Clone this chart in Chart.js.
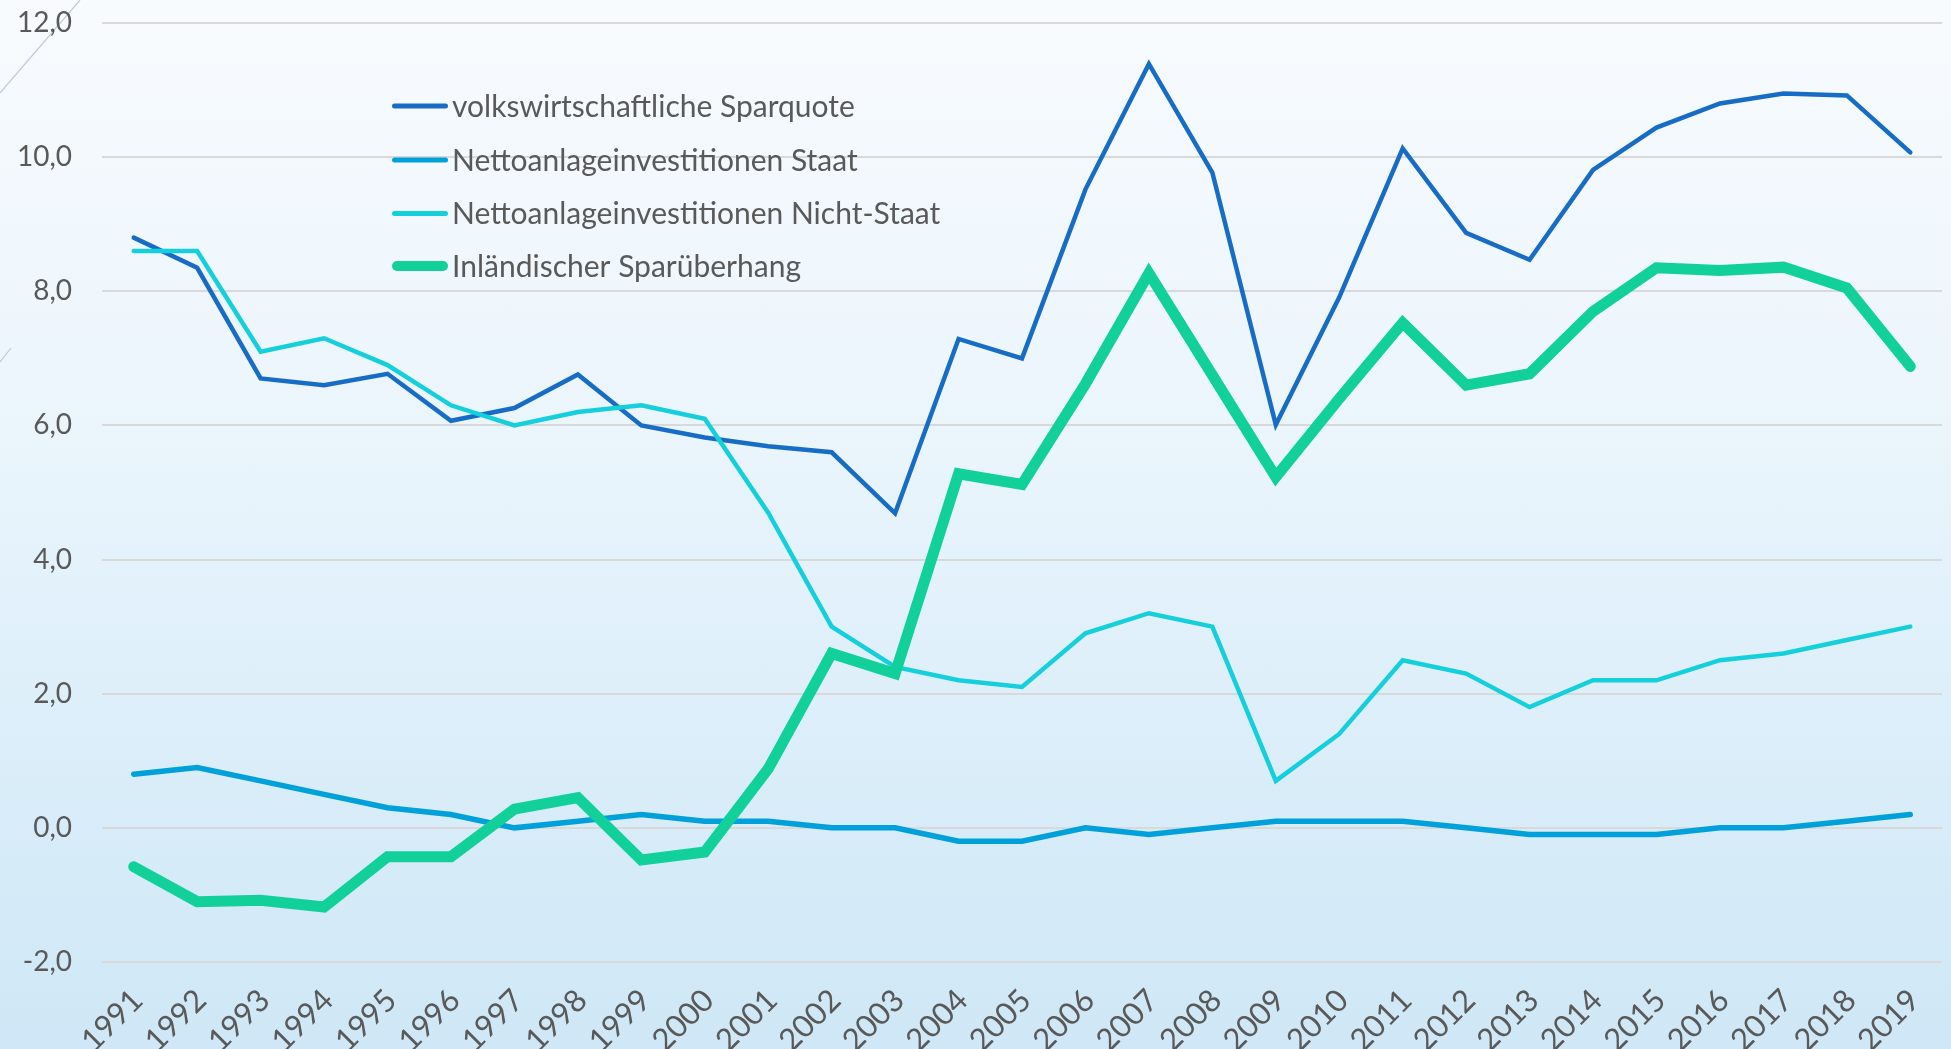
<!DOCTYPE html>
<html><head><meta charset="utf-8">
<script src="https://cdn.jsdelivr.net/npm/chart.js@4.4.0/dist/chart.umd.min.js"></script>
<style>
html,body{margin:0;padding:0;}
body{width:1951px;height:1049px;overflow:hidden;background:linear-gradient(to bottom,#f8fbfe 0%,#ebf5fc 40%,#d9edf9 75%,#cfe7f6 100%);}
#wrap{position:relative;width:1951px;height:1049px;}
canvas{display:block;}
</style></head><body>
<div id="wrap"><canvas id="c" width="1951" height="1049"></canvas></div>
<script>
// ---- data ----
const years = ['1991','1992','1993','1994','1995','1996','1997','1998','1999','2000','2001','2002','2003','2004','2005','2006','2007','2008','2009','2010','2011','2012','2013','2014','2015','2016','2017','2018','2019'];
const seriesNames = ['volkswirtschaftliche Sparquote','Nettoanlageinvestitionen Staat','Nettoanlageinvestitionen Nicht-Staat','Inländischer Sparüberhang'];
const sparquote = [8.8, 8.35, 6.7, 6.6, 6.77, 6.07, 6.26, 6.76, 6.0, 5.82, 5.69, 5.6, 4.69, 7.29, 7.0, 9.52, 11.39, 9.77, 6.01, 7.91, 10.13, 8.87, 8.47, 9.81, 10.44, 10.8, 10.95, 10.92, 10.07];
const staat = [0.8, 0.9, 0.7, 0.5, 0.3, 0.2, 0.0, 0.1, 0.2, 0.1, 0.1, 0.0, 0.0, -0.2, -0.2, 0.0, -0.1, 0.0, 0.1, 0.1, 0.1, 0.0, -0.1, -0.1, -0.1, 0.0, 0.0, 0.1, 0.2];
const nichtStaat = [8.6, 8.6, 7.1, 7.3, 6.9, 6.3, 6.0, 6.2, 6.3, 6.1, 4.7, 3.0, 2.4, 2.2, 2.1, 2.9, 3.2, 3.0, 0.7, 1.4, 2.5, 2.3, 1.8, 2.2, 2.2, 2.5, 2.6, 2.8, 3.0];
const ueberhang = [-0.58, -1.1, -1.08, -1.18, -0.43, -0.43, 0.28, 0.45, -0.48, -0.36, 0.88, 2.6, 2.3, 5.28, 5.12, 6.62, 8.27, 6.75, 5.23, 6.4, 7.53, 6.6, 6.77, 7.7, 8.35, 8.31, 8.36, 8.05, 6.88];
const yTickValues = [-2, 0, 2, 4, 6, 8, 10, 12];
const yTickLabels = ['-2,0', '0,0', '2,0', '4,0', '6,0', '8,0', '10,0', '12,0'];

// ---- styles ----
const colors = ['#176dc6', '#00a0db', '#15cfdd', '#12d09a'];
const widths = [4.5, 5.5, 4.5, 11];
const legendWidths = [5, 5, 5, 10];
const textColor = '#595959';
const FONT = 'Lato, "Open Sans", sans-serif';

const legendPlugin = {
  id: 'customLegend',
  afterDraw(chart) {
    const ctx = chart.ctx;
    const x0 = 392, x1 = 448, tx = 452;
    const rows = [106, 160, 213.5, 266];
    ctx.save();
    ctx.font = '30px ' + FONT;
    ctx.textAlign = 'left';
    ctx.textBaseline = 'alphabetic';
    chart.data.datasets.forEach((ds, i) => {
      const y = rows[i];
      ctx.strokeStyle = ds.borderColor;
      ctx.lineWidth = legendWidths[i];
      ctx.lineCap = 'round';
      ctx.beginPath();
      ctx.moveTo(x0 + legendWidths[i] / 2, y);
      ctx.lineTo(x1 - legendWidths[i] / 2, y);
      ctx.stroke();
      ctx.fillStyle = textColor;
      ctx.fillText(ds.label, tx, y + 10.5);
    });
    ctx.restore();
  }
};

const decoPlugin = {
  id: 'deco',
  beforeDraw(chart) {
    const ctx = chart.ctx;
    ctx.save();
    ctx.strokeStyle = 'rgba(150,165,190,0.55)';
    ctx.lineWidth = 1.2;
    ctx.beginPath();
    ctx.moveTo(0, 93); ctx.lineTo(80, 0);
    ctx.moveTo(0, 362); ctx.lineTo(11, 348);
    ctx.stroke();
    ctx.restore();
  }
};

const mk = (i, data, order) => ({
  label: seriesNames[i], data, borderColor: colors[i], backgroundColor: colors[i],
  borderWidth: widths[i], pointRadius: 0, pointHoverRadius: 0, tension: 0,
  borderCapStyle: 'round', borderJoinStyle: 'miter', fill: false, order
});

new Chart(document.getElementById('c'), {
  type: 'line',
  data: {
    labels: years,
    datasets: [mk(0, sparquote, 4), mk(1, staat, 3), mk(2, nichtStaat, 2), mk(3, ueberhang, 1)]
  },
  options: {
    responsive: false, animation: false, devicePixelRatio: 1,
    layout: { padding: { top: 23, right: 9, left: 0, bottom: 0 } },
    plugins: { legend: { display: false }, tooltip: { enabled: false } },
    scales: {
      x: {
        type: 'category', offset: true,
        grid: { display: false, drawTicks: false },
        border: { display: false },
        ticks: { autoSkip: false, maxRotation: 45, minRotation: 45, padding: 20, labelOffset: 4, color: textColor, font: { family: FONT, size: 31 } },
        afterFit(s) { s.height = 87; s.paddingLeft = 0; s.paddingRight = 0; }
      },
      y: {
        min: -2, max: 12,
        afterBuildTicks(s) { s.ticks = yTickValues.map(v => ({ value: v })); },
        grid: { color: '#d9d9d9', lineWidth: 2, drawTicks: false },
        border: { display: false },
        ticks: {
          padding: 30, color: textColor, font: { family: FONT, size: 28 },
          callback: (v) => { const k = yTickValues.indexOf(v); return k >= 0 ? yTickLabels[k] : ''; }
        },
        afterFit(s) { s.width = 102; s.paddingTop = 0; s.paddingBottom = 0; }
      }
    }
  },
  plugins: [decoPlugin, legendPlugin]
});
</script>
</body></html>
